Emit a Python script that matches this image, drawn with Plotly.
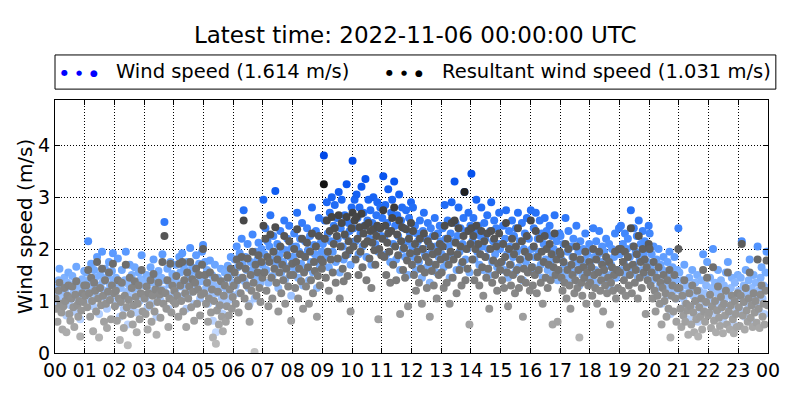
import pandas as pd
import plotly.graph_objects as go

# 2-minute samples, one row per hour (00..23)
wind_speed = [
    1.25,1.10,0.95,1.40,1.62,1.30,1.05,0.88,1.18,1.45,1.22,0.72,1.35,1.55,1.08,0.92,1.28,1.48,1.15,0.80,1.38,1.66,1.20,1.02,1.30,0.65,1.12,1.42,1.25,1.58,
    1.35,1.55,1.20,2.15,1.40,1.02,1.72,1.28,0.90,1.60,1.45,1.12,1.85,1.30,0.75,1.50,1.25,1.95,1.38,1.08,1.62,1.20,0.85,1.48,1.75,1.32,1.05,1.58,1.92,1.40,
    1.15,1.45,0.95,1.82,1.30,0.70,1.25,1.60,1.05,0.85,1.40,1.95,1.18,0.55,1.32,1.70,1.08,1.50,0.90,1.22,1.65,1.35,0.78,1.28,1.55,1.00,1.42,1.88,1.12,1.38,
    1.30,1.05,1.50,0.88,1.42,1.20,1.65,0.95,1.35,1.80,1.12,1.48,0.70,1.25,1.58,1.38,1.02,1.45,1.90,1.22,2.52,1.40,1.15,1.62,0.85,1.32,1.75,1.10,1.52,1.28,
    1.45,1.20,1.70,1.35,1.02,1.85,1.55,1.28,1.92,1.10,1.62,1.40,0.85,1.75,1.30,1.50,2.02,1.18,1.65,1.42,0.95,1.58,1.88,1.25,1.48,1.72,1.05,1.38,1.95,2.08,
    1.40,1.75,1.25,1.60,0.95,1.35,1.78,1.10,1.50,0.62,1.30,1.70,0.40,1.15,1.45,0.88,1.25,1.62,1.05,0.75,1.38,1.55,0.92,1.20,1.68,1.02,1.48,1.85,1.12,1.35,
    1.55,1.80,1.30,2.05,1.65,1.15,1.92,1.45,2.20,1.70,2.75,1.38,1.85,1.60,2.10,1.25,0.95,1.75,1.50,2.28,1.62,1.05,1.95,1.42,1.80,2.12,1.55,1.35,2.00,1.70,
    2.95,1.90,2.40,1.60,2.15,1.35,2.05,2.65,1.80,1.48,2.25,1.95,3.12,1.70,2.10,1.25,1.88,2.35,1.55,2.00,1.75,2.55,1.42,1.98,2.20,1.65,2.45,1.85,1.10,2.05,
    1.85,2.30,1.60,2.05,2.70,1.45,1.95,2.20,1.72,2.50,1.30,1.88,2.15,1.62,2.40,1.98,1.40,2.25,1.75,2.80,1.55,2.08,1.90,2.35,1.25,1.82,2.60,1.68,2.12,1.95,
    2.10,3.80,2.55,1.85,2.90,2.30,1.65,2.70,2.15,3.00,1.95,2.45,2.85,1.75,2.60,2.20,3.10,1.55,2.40,2.95,2.05,1.80,2.65,2.25,3.25,1.90,2.50,2.35,1.70,2.80,
    3.70,2.40,2.95,2.15,3.05,2.60,1.90,2.80,2.30,3.20,2.05,2.70,2.45,3.35,1.85,2.55,2.95,2.20,2.75,1.70,2.50,3.00,2.35,2.10,2.65,2.90,1.95,2.40,2.80,2.25,
    2.60,3.40,2.20,2.85,1.90,2.50,3.15,2.35,1.75,2.70,2.95,2.10,3.30,2.45,1.80,2.65,2.25,3.05,1.60,2.55,2.80,2.00,2.40,1.85,2.75,2.15,1.50,2.60,2.30,2.90,
    2.05,2.80,1.85,2.45,1.60,2.30,2.15,1.75,2.55,2.00,1.45,2.35,2.70,1.90,2.20,1.65,2.50,2.10,1.35,2.40,1.95,2.25,1.70,2.60,2.05,1.55,2.30,1.85,2.45,2.15,
    1.90,2.40,1.65,2.85,2.20,1.75,2.55,2.05,1.45,2.30,2.90,1.85,2.15,3.30,2.50,1.60,2.25,2.80,1.95,2.40,1.70,2.10,2.60,3.10,1.80,2.35,2.00,2.70,1.55,2.45,
    3.45,2.15,2.60,1.80,2.35,2.95,1.95,2.45,1.70,2.25,2.80,2.05,1.60,2.50,2.20,1.85,2.65,2.00,1.50,2.35,2.90,1.75,2.15,2.55,1.90,2.40,1.65,2.10,2.70,2.00,
    2.10,1.75,2.45,1.60,2.20,2.75,1.90,1.45,2.35,2.05,1.70,2.55,1.85,2.25,1.55,2.40,1.95,2.70,1.65,2.15,1.80,2.50,1.40,2.00,2.30,1.75,2.60,1.90,2.20,1.60,
    2.75,2.00,1.65,2.40,1.85,2.70,1.55,2.20,1.95,2.55,1.70,2.30,1.45,2.10,2.60,1.80,2.35,1.60,2.05,2.45,1.75,2.25,1.50,2.00,2.65,1.85,2.15,1.40,1.95,2.30,
    2.25,1.80,1.55,2.10,1.70,2.60,1.45,1.95,2.35,1.65,1.40,2.05,1.85,2.20,1.55,1.75,2.45,1.60,1.95,1.30,2.15,1.70,1.50,2.00,1.80,2.30,1.45,1.90,1.65,2.10,
    1.70,2.00,1.45,2.40,1.85,1.60,2.15,1.35,1.90,2.35,1.55,1.75,2.05,1.40,1.95,1.65,2.20,1.50,1.80,2.10,1.25,1.70,2.00,1.55,1.85,2.30,1.45,1.95,1.60,2.40,
    1.90,2.45,1.60,2.10,1.75,2.30,1.50,2.00,2.20,1.65,1.85,2.75,1.55,2.05,2.40,1.70,1.95,2.25,1.45,2.55,1.80,2.10,1.60,2.35,1.90,2.15,1.50,2.00,1.75,2.45,
    2.30,1.65,1.90,1.40,2.05,1.55,1.20,1.80,1.45,2.00,1.30,1.70,0.95,1.60,1.85,1.35,1.50,1.10,1.75,1.25,1.95,0.75,1.45,1.65,1.20,1.85,1.40,1.05,1.60,2.40,
    1.55,1.20,0.85,1.40,1.05,1.70,0.95,1.30,1.15,0.65,1.45,1.25,0.90,1.60,1.10,0.75,1.35,1.00,1.50,0.60,1.20,1.05,1.40,0.80,1.90,1.15,0.95,1.30,1.75,1.05,
    1.10,1.45,0.80,1.25,2.00,0.95,1.35,0.70,1.15,1.60,1.00,0.85,1.40,1.20,0.65,1.30,1.05,1.55,0.90,1.75,1.15,0.75,1.25,1.45,1.00,0.55,1.35,1.10,0.85,1.50,
    1.20,0.85,1.45,2.15,1.05,1.30,0.70,1.60,1.15,0.95,1.40,1.80,1.00,1.25,0.60,1.50,1.10,1.35,0.90,2.05,1.20,0.80,1.45,1.65,1.05,1.30,0.75,1.55,1.95,1.25,
]

resultant_speed = [
    1.05,0.85,0.60,1.20,1.35,0.95,0.78,0.45,0.90,1.25,1.00,0.40,1.10,1.30,0.75,0.62,1.05,1.28,0.88,0.50,1.12,1.38,0.92,0.70,1.00,0.32,0.82,1.15,0.98,1.30,
    1.10,1.30,0.88,1.60,1.15,0.70,1.45,1.00,0.42,1.35,1.20,0.80,1.75,1.05,0.30,1.25,0.92,1.62,1.10,0.60,1.40,0.95,0.48,1.18,1.55,1.02,0.65,1.30,1.72,1.15,
    0.90,1.20,0.62,1.40,1.05,0.25,0.98,1.35,0.72,0.48,1.10,1.70,0.88,0.15,1.02,1.45,0.75,1.25,0.55,0.92,1.38,1.08,0.40,0.95,1.30,0.65,1.15,1.60,0.80,1.12,
    1.05,0.75,1.28,0.45,1.15,0.92,1.40,0.60,1.10,1.52,0.80,1.22,0.35,0.98,1.35,1.12,0.68,1.20,1.75,0.95,2.25,1.15,0.85,1.40,0.50,1.05,1.72,0.78,1.30,1.00,
    1.20,0.95,1.48,1.10,0.70,1.72,1.30,1.00,1.75,0.80,1.40,1.15,0.50,1.55,1.05,1.28,1.75,0.88,1.42,1.18,0.62,1.35,1.62,0.95,1.22,1.50,0.72,1.12,1.70,2.00,
    1.15,1.50,0.95,1.35,0.60,1.05,1.55,0.78,1.22,0.30,1.00,1.45,0.18,0.82,1.18,0.55,0.92,1.38,0.70,0.42,1.10,1.30,0.60,0.90,1.45,0.72,1.22,1.62,0.85,1.08,
    1.30,1.55,0.95,1.80,1.40,0.78,1.68,1.15,1.85,1.45,2.55,1.05,1.62,1.30,1.82,0.90,0.60,1.50,1.20,1.95,1.35,0.02,1.70,1.10,1.55,1.88,1.25,0.98,1.75,1.45,
    2.45,1.55,2.20,1.20,1.85,0.90,1.75,2.28,1.45,1.05,1.95,1.62,2.42,1.35,1.80,0.80,1.55,2.05,1.15,1.70,1.40,2.25,0.95,1.62,1.88,1.28,2.15,1.50,0.62,1.72,
    1.50,2.00,1.25,1.75,2.38,1.05,1.62,1.90,1.38,2.20,0.85,1.55,1.85,1.28,2.12,1.65,0.95,1.95,1.40,2.30,1.15,1.75,1.58,2.05,0.70,1.48,2.25,1.30,1.80,1.62,
    1.75,3.25,2.20,1.45,2.55,1.95,1.20,2.35,1.80,2.62,1.55,2.10,2.40,1.35,2.25,1.82,2.65,1.05,2.05,2.50,1.62,1.38,2.28,1.88,2.62,1.48,2.15,1.98,0.80,2.40,
    2.70,2.05,2.55,1.80,2.62,2.20,1.50,2.42,1.95,2.68,1.65,2.30,2.10,2.45,1.40,2.15,2.50,1.82,2.35,1.25,2.12,2.38,1.98,1.70,2.25,2.45,0.65,2.00,2.40,1.88,
    2.20,2.75,1.85,2.45,1.50,2.12,2.30,1.95,1.35,2.35,2.60,1.70,2.80,2.05,1.40,2.28,1.88,2.55,0.75,2.15,2.42,1.60,2.02,1.45,2.38,1.78,0.90,2.20,1.92,2.50,
    1.70,2.35,1.50,2.10,1.20,1.95,1.80,1.35,2.20,1.62,0.95,2.00,2.30,1.55,1.85,1.25,2.15,1.75,0.70,2.05,1.58,1.90,1.30,2.25,1.70,1.05,1.95,1.50,2.10,1.80,
    1.55,2.05,1.25,2.45,1.85,1.35,2.20,1.70,0.95,1.95,2.50,1.45,1.80,2.55,2.12,1.15,1.90,2.40,1.60,2.05,1.30,1.75,2.25,3.10,1.40,2.00,1.62,2.35,0.55,2.10,
    2.40,1.80,2.25,1.40,2.00,2.45,1.55,2.10,1.30,1.90,2.35,1.65,1.10,2.15,1.85,1.45,2.30,1.62,0.85,2.00,2.35,1.35,1.78,2.20,1.50,2.05,1.20,1.72,2.30,1.60,
    1.75,1.40,2.10,1.25,1.85,2.50,1.55,0.90,2.00,1.70,1.30,2.20,1.50,1.90,1.15,2.05,1.60,2.40,1.25,1.80,1.42,2.15,0.70,1.62,1.95,1.35,2.25,1.55,1.85,1.20,
    2.55,1.65,1.30,2.05,1.50,2.35,1.15,1.85,1.60,2.20,1.35,1.95,0.95,1.75,2.25,1.45,2.00,1.25,1.70,2.10,1.40,1.90,0.55,1.65,2.30,1.50,1.80,0.60,1.60,1.95,
    1.90,1.45,1.20,1.75,1.35,2.10,1.05,1.60,2.00,1.30,0.85,1.70,1.50,1.85,1.15,1.40,2.05,1.25,1.60,0.30,1.80,1.35,1.10,1.65,1.45,1.95,0.95,1.55,1.30,1.75,
    1.35,1.65,1.10,2.00,1.50,1.25,1.80,0.95,1.55,1.95,1.20,1.40,1.70,0.80,1.60,1.30,1.85,1.15,1.45,1.75,0.55,1.35,1.65,1.20,1.50,1.95,1.05,1.60,1.25,2.00,
    1.55,2.00,1.20,1.75,1.40,1.95,1.10,1.65,1.85,1.30,1.50,2.40,1.15,1.70,2.05,1.35,1.60,1.90,1.05,2.25,1.45,1.75,1.25,2.00,1.55,1.80,0.75,1.65,1.40,2.10,
    2.00,1.30,1.55,1.05,1.75,1.20,0.80,1.45,1.10,1.65,0.95,1.35,0.55,1.25,1.50,1.00,1.15,0.70,1.40,0.85,1.60,0.30,1.10,1.30,0.80,1.50,1.05,0.60,1.25,2.00,
    1.25,0.85,0.50,1.10,0.72,1.40,0.60,0.95,0.82,0.35,1.15,0.90,0.55,1.30,0.78,0.40,1.00,0.65,1.20,0.32,0.88,0.70,1.05,0.45,1.60,0.80,0.60,0.98,1.45,0.72,
    0.78,1.12,0.48,0.90,1.65,0.62,1.00,0.40,0.82,1.28,0.68,0.52,1.08,0.88,0.38,0.95,0.72,1.20,0.55,1.55,0.80,0.45,0.92,1.10,0.65,0.38,1.00,0.75,0.50,1.15,
    0.88,0.52,1.10,2.10,0.72,0.98,0.45,1.25,0.82,0.60,1.05,1.55,0.68,0.92,0.50,1.15,0.78,1.00,0.58,1.80,0.85,0.48,1.12,1.30,0.70,0.95,0.55,1.20,1.78,0.92,
]

latest_time = "2022-11-06 00:00:00 UTC"
latest_wind = 1.614
latest_resultant = 1.031
hour_labels = ["%02d" % h for h in range(24)] + ["00"]

times = pd.date_range("2022-11-05 00:01", periods=len(wind_speed), freq="2min")
hour_ticks = pd.date_range("2022-11-05 00:00", periods=25, freq="h")

blues = [[0.0, "#d6e4ff"], [0.25, "#a9c9ff"], [0.4, "#78aeff"], [0.55, "#4f92ff"],
         [0.7, "#2a74f8"], [0.85, "#0b58f0"], [1.0, "#0048e8"]]
greys = [[0.0, "#c4c4c4"], [0.15, "#a2a2a2"], [0.3, "#8a8a8a"], [0.45, "#6c6c6c"],
         [0.6, "#555555"], [0.75, "#3a3a3a"], [0.85, "#151515"], [1.0, "#000000"]]

fig = go.Figure()
fig.add_trace(go.Scatter(
    x=times, y=wind_speed, mode="markers", showlegend=False,
    marker=dict(size=8, color=wind_speed, colorscale=blues, cmin=0, cmax=3.8, line_width=0)))
fig.add_trace(go.Scatter(
    x=times, y=resultant_speed, mode="markers", showlegend=False,
    marker=dict(size=8, color=resultant_speed, colorscale=greys, cmin=0, cmax=3.8, line_width=0)))

# hand-made legend box like the matplotlib one
fig.add_shape(type="rect", xref="paper", yref="paper", x0=0, x1=1.011, y0=1.043, y1=1.178,
              line=dict(color="black", width=1), fillcolor="white")
txt_font = "DejaVu Sans"
for xs, col in [([0.013, 0.033, 0.054], "#0000ff"), ([0.469, 0.489, 0.510], "black")]:
    for xp, sz in zip(xs, [8, 7, 9]):
        fig.add_annotation(x=xp, y=1.108, xref="paper", yref="paper", text="●", showarrow=False,
                           font=dict(size=sz, color=col, family=txt_font), xanchor="center", yanchor="middle")
fig.add_annotation(x=0.083, y=1.111, xref="paper", yref="paper", showarrow=False,
                   text="Wind speed (%.3f m/s)" % latest_wind, xanchor="left", yanchor="middle",
                   font=dict(size=19.5, color="black", family=txt_font))
fig.add_annotation(x=0.540, y=1.111, xref="paper", yref="paper", showarrow=False,
                   text="Resultant wind speed (%.3f m/s)" % latest_resultant, xanchor="left", yanchor="middle",
                   font=dict(size=19.5, color="black", family=txt_font))

# the page puts the figure 8px in from the top-left, margins allow for that
fig.update_layout(
    width=800, height=400,
    margin=dict(l=47, r=40, t=92, b=55),
    paper_bgcolor="white", plot_bgcolor="white",
    font=dict(family="DejaVu Sans", size=19, color="black"),
    title=dict(text="Latest time: " + latest_time, xref="container", x=0.509, xanchor="center",
               y=0.9325, yanchor="middle", font=dict(size=23)),
)
fig.update_xaxes(
    range=[hour_ticks[0], hour_ticks[-1]], tickvals=hour_ticks, ticktext=hour_labels,
    showline=True, linecolor="black", linewidth=1, mirror="allticks",
    ticks="inside", ticklen=5, tickcolor="black",
    showgrid=True, gridcolor="black", griddash="1px,2px", gridwidth=1, zeroline=False,
)
fig.update_yaxes(
    range=[0, 4.87], tickvals=[0, 1, 2, 3, 4],
    title=dict(text="Wind speed (m/s)", font=dict(size=20), standoff=0),
    showline=True, linecolor="black", linewidth=1, mirror="allticks",
    ticks="inside", ticklen=5, tickcolor="black",
    showgrid=True, gridcolor="black", griddash="1px,2px", gridwidth=1, zeroline=False,
)

fig.write_html("out.html")
